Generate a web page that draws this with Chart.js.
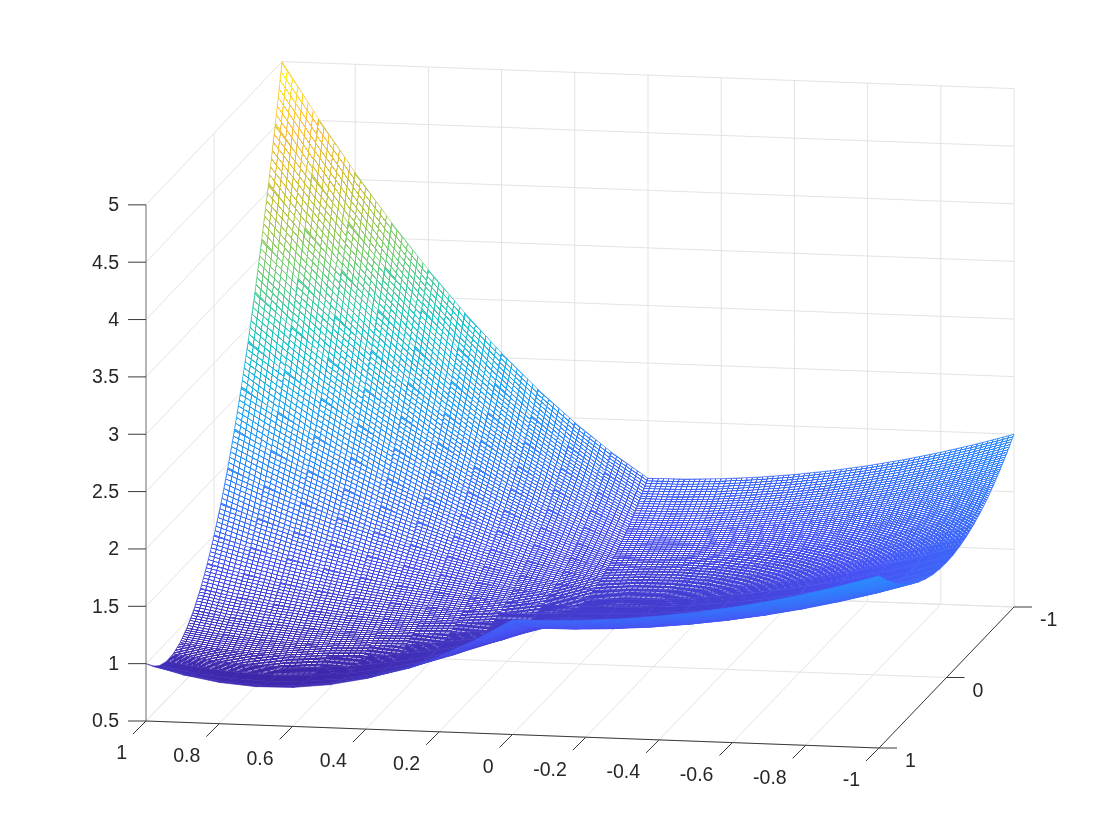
<!DOCTYPE html>
<html><head><meta charset="utf-8">
<style>html,body{margin:0;padding:0;background:#fff}canvas{display:block}</style>
<script src="https://cdn.jsdelivr.net/npm/chart.js@4"></script>
</head><body><canvas id="c" width="1120" height="840"></canvas>
<script>
const xGrid=[1,.9,.8,.7,.6,.5,.4,.3,.2,.1,0,-.1,-.2,-.3,-.4,-.5,-.6,-.7,-.8,-.9,-1];
const yGrid=[-1,-.9,-.8,-.7,-.6,-.5,-.4,-.3,-.2,-.1,0,.1,.2,.3,.4,.5,.6,.7,.8,.9,1];
const zGrid=[
[5,4.515,4.06,3.635,3.24,2.875,2.54,2.235,1.96,1.715,1.5,1.505,1.52,1.545,1.58,1.625,1.68,1.745,1.82,1.905,2],
[4.515,4.086,3.683,3.307,2.957,2.633,2.335,2.063,1.817,1.598,1.405,1.41,1.425,1.45,1.485,1.53,1.585,1.65,1.725,1.81,1.905],
[4.06,3.683,3.33,2.999,2.69,2.405,2.142,1.903,1.686,1.491,1.32,1.325,1.34,1.365,1.4,1.445,1.5,1.565,1.64,1.725,1.82],
[3.635,3.307,2.999,2.71,2.441,2.193,1.963,1.754,1.565,1.395,1.245,1.25,1.265,1.29,1.325,1.37,1.425,1.49,1.565,1.65,1.745],
[3.24,2.957,2.69,2.441,2.21,1.995,1.798,1.617,1.454,1.309,1.18,1.185,1.2,1.225,1.26,1.305,1.36,1.425,1.5,1.585,1.68],
[2.875,2.633,2.405,2.193,1.995,1.813,1.645,1.493,1.355,1.233,1.125,1.13,1.145,1.17,1.205,1.25,1.305,1.37,1.445,1.53,1.625],
[2.54,2.335,2.142,1.963,1.798,1.645,1.506,1.379,1.266,1.167,1.08,1.085,1.1,1.125,1.16,1.205,1.26,1.325,1.4,1.485,1.58],
[2.235,2.063,1.903,1.754,1.617,1.493,1.379,1.278,1.189,1.111,1.045,1.05,1.065,1.09,1.125,1.17,1.225,1.29,1.365,1.45,1.545],
[1.96,1.817,1.686,1.565,1.454,1.355,1.266,1.189,1.122,1.065,1.02,1.025,1.04,1.065,1.1,1.145,1.2,1.265,1.34,1.425,1.52],
[1.715,1.598,1.491,1.395,1.309,1.233,1.167,1.111,1.065,1.03,1.005,1.01,1.025,1.05,1.085,1.13,1.185,1.25,1.325,1.41,1.505],
[1.5,1.405,1.32,1.245,1.18,1.125,1.08,1.045,1.02,1.005,1,1.005,1.02,1.045,1.08,1.125,1.18,1.245,1.32,1.405,1.5],
[1.315,1.238,1.171,1.115,1.069,1.033,1.007,.991,.985,.99,1.005,1.01,1.025,1.05,1.085,1.13,1.185,1.25,1.325,1.41,1.505],
[1.16,1.097,1.046,1.005,.974,.955,.946,.949,.962,.985,1.02,1.025,1.04,1.065,1.1,1.145,1.2,1.265,1.34,1.425,1.52],
[1.035,.983,.943,.914,.897,.893,.899,.918,.949,.991,1.045,1.05,1.065,1.09,1.125,1.17,1.225,1.29,1.365,1.45,1.545],
[.94,.895,.862,.843,.838,.845,.866,.899,.946,1.007,1.08,1.085,1.1,1.125,1.16,1.205,1.26,1.325,1.4,1.485,1.58],
[.875,.833,.805,.793,.795,.813,.845,.893,.955,1.033,1.125,1.13,1.145,1.17,1.205,1.25,1.305,1.37,1.445,1.53,1.625],
[.84,.797,.77,.761,.77,.795,.838,.897,.974,1.069,1.18,1.185,1.2,1.225,1.26,1.305,1.36,1.425,1.5,1.585,1.68],
[.835,.787,.759,.75,.761,.793,.843,.914,1.005,1.115,1.245,1.25,1.265,1.29,1.325,1.37,1.425,1.49,1.565,1.65,1.745],
[.86,.803,.77,.759,.77,.805,.862,.943,1.046,1.171,1.32,1.325,1.34,1.365,1.4,1.445,1.5,1.565,1.64,1.725,1.82],
[.915,.846,.803,.787,.797,.833,.895,.983,1.097,1.238,1.405,1.41,1.425,1.45,1.485,1.53,1.585,1.65,1.725,1.81,1.905],
[1,.915,.86,.835,.84,.875,.94,1.035,1.16,1.315,1.5,1.505,1.52,1.545,1.58,1.625,1.68,1.745,1.82,1.905,2]
];
const xTicks=[1,.8,.6,.4,.2,0,-.2,-.4,-.6,-.8,-1];
const yTicks=[1,0,-1];
const zTicks=[.5,1,1.5,2,2.5,3,3.5,4,4.5,5];
const cmap=[[62,38,168],[71,82,244],[48,128,254],[35,165,240],[30,200,195],[120,208,120],[200,195,60],[255,190,60],[249,251,21]];
const cMin=.75,cMax=5;
const subDiv=7,meshW=1.1;

function P(x,y,z){const u=(1-x)/2,v=(1-y)/2;
  return {x:146+u*733+v*(136-u),y:721+u*27-v*141-(z-.5)*(114.7+v*.5)};}
function col(z){let t=Math.max(0,Math.min(1,(z-cMin)/(cMax-cMin)))*(cmap.length-1);
  const i=Math.min(cmap.length-2,Math.floor(t)),f=t-i;
  return cmap[i].map((c,k)=>c+(cmap[i+1][k]-c)*f);}
const rgb=a=>`rgb(${a.map(Math.round).join(',')})`;

function meshPattern(pts,zs){
  // line texture of the cell: it only colours the cell drawn by the library
  const A={x:(pts[1].x-pts[0].x+pts[2].x-pts[3].x)/2,y:(pts[1].y-pts[0].y+pts[2].y-pts[3].y)/2};
  const B={x:(pts[3].x-pts[0].x+pts[2].x-pts[1].x)/2,y:(pts[3].y-pts[0].y+pts[2].y-pts[1].y)/2};
  const cr=Math.abs(A.x*B.y-A.y*B.x),la=Math.hypot(A.x,A.y),lb=Math.hypot(B.x,B.y);
  const zm=(zs[0]+zs[1]+zs[2]+zs[3])/4;
  if(cr<2||la<1||lb<1)return rgb(col(zm));
  const Tu=Math.max(28,Math.ceil(la*3)),Tv=Math.max(28,Math.ceil(lb*3));
  const c=document.createElement('canvas');c.width=Tu;c.height=Tv;const g=c.getContext('2d');
  g.fillStyle='#fff';g.fillRect(0,0,Tu,Tv);
  const wu=meshW*Tu*lb/cr,wv=meshW*Tv*la/cr,du=Tu/subDiv,dv=Tv/subDiv;
  const Z=(s,t)=>zs[0]*(1-s)*(1-t)+zs[1]*s*(1-t)+zs[2]*s*t+zs[3]*(1-s)*t;
  for(let k=0;k<=subDiv;k++)for(let l=0;l<=subDiv;l++){
    const s=k/subDiv,t=l/subDiv;
    if(l<subDiv){g.fillStyle=rgb(col(Z(s,t+.5/subDiv)));g.fillRect(k*du-wu/2,l*dv,wu,dv);}
    if(k<subDiv){g.fillStyle=rgb(col(Z(s+.5/subDiv,t)));g.fillRect(k*du,l*dv-wv/2,du,wv);}
  }
  const pat=document.createElement('canvas').getContext('2d').createPattern(c,'repeat');
  const cx=(pts[0].x+pts[1].x+pts[2].x+pts[3].x)/4-(A.x+B.x)/2,cy=(pts[0].y+pts[1].y+pts[2].y+pts[3].y)/4-(A.y+B.y)/2;
  pat.setTransform(new DOMMatrix([A.x/Tu,A.y/Tu,B.x/Tv,B.y/Tv,cx,cy]));
  return pat;
}

const ds=[];
const line=(pts,color,w)=>({type:'scatter',showLine:true,data:pts,borderColor:color,borderWidth:w,pointRadius:0,fill:false,clip:false});
const grid='#e3e3e3',ax='#3a3a3a';
for(const z of zTicks){ds.push(line([P(1,1,z),P(1,-1,z),P(-1,-1,z)],grid,1));}
for(const x of xTicks){ds.push(line([P(x,1,.5),P(x,-1,.5),P(x,-1,5)],grid,1));}
for(const y of yTicks){ds.push(line([P(-1,y,.5),P(1,y,.5),P(1,y,5)],grid,1));}
for(let j=0;j<yGrid.length-1;j++)for(let i=0;i<xGrid.length-1;i++){
  const a=[[i,j],[i+1,j],[i+1,j+1],[i,j+1]];
  const zs=a.map(([m,n])=>zGrid[n][m]);
  const pts=a.map(([m,n])=>P(xGrid[m],yGrid[n],zGrid[n][m]));
  const bg=meshPattern(pts,zs);
  const zm=(zs[0]+zs[1]+zs[2]+zs[3])/4;
  const closed=pts.concat([pts[0]]);
  ds.push({type:'scatter',showLine:true,data:closed,borderColor:rgb(col(zm)),backgroundColor:bg,borderWidth:.6,pointRadius:0,fill:'shape',clip:false});
}
ds.push(line([P(1,1,.5),P(1,1,5)],'#7a7a7a',1));
ds.push(line([P(1,1,.5),P(-1,1,.5),P(-1,-1,.5)],ax,1));
const off=(p,dx,dy)=>({x:p.x+dx,y:p.y+dy});
for(const z of zTicks)ds.push(line([P(1,1,z),off(P(1,1,z),-18,0)],ax,1));
for(const x of xTicks)ds.push(line([P(x,1,.5),off(P(x,1,.5),-13,13)],ax,1));
for(const y of yTicks)ds.push(line([P(-1,y,.5),off(P(-1,y,.5),18,0)],ax,1));
ds.reverse();

const labels={id:'labels',afterDraw(ch){
  const g=ch.ctx,sx=ch.scales.x,sy=ch.scales.y;g.save();
  g.font='19.5px "Liberation Sans"';g.fillStyle='#262626';g.textBaseline='middle';
  const put=(t,p,dx,dy,al)=>{g.textAlign=al;g.fillText(t,sx.getPixelForValue(p.x)+dx,sy.getPixelForValue(p.y)+dy);};
  for(const z of zTicks)put(String(z),P(1,1,z),-27,1,'right');
  for(const x of xTicks)put(String(x),P(x,1,.5),-19,33,'right');
  for(const y of yTicks)put(String(y),P(-1,y,.5),26,14,'left');
  g.restore();}};

new Chart(document.getElementById('c'),{
  type:'scatter',data:{datasets:ds},plugins:[labels],
  options:{responsive:false,animation:false,events:[],layout:{padding:0},
    plugins:{legend:{display:false},tooltip:{enabled:false},title:{display:false}},
    scales:{x:{type:'linear',display:false,min:0,max:1120},y:{type:'linear',display:false,min:0,max:840,reverse:true}}}
});
</script></body></html>
